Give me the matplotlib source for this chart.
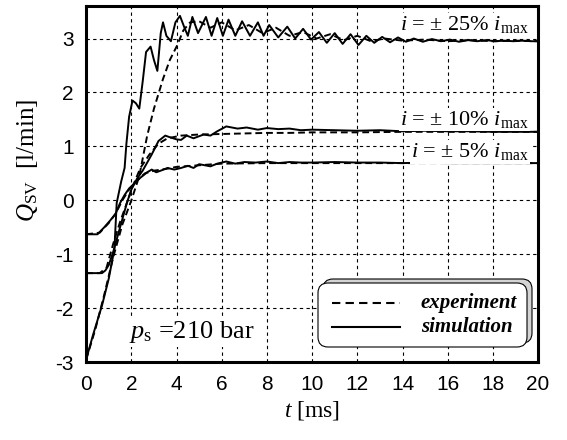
import matplotlib
matplotlib.use("Agg")
import matplotlib.pyplot as plt
from matplotlib.patches import FancyBboxPatch
from matplotlib.lines import Line2D

plt.rcParams['mathtext.fontset'] = 'custom'
plt.rcParams['mathtext.rm'] = 'Liberation Serif'
plt.rcParams['mathtext.it'] = 'Liberation Serif:italic'
plt.rcParams['mathtext.bf'] = 'Liberation Serif:bold'

# ---- data ----
sim25_t = [0, 0.3, 0.7, 1.0, 1.25, 1.35, 1.55, 1.7, 1.78, 1.9, 2.05, 2.2, 2.35, 2.5, 2.65,
           2.85, 3.0, 3.15, 3.3, 3.4, 3.55, 3.75, 3.95, 4.15, 4.35, 4.5, 4.7, 4.95, 5.3, 5.55,
           5.8, 6.05, 6.3, 6.6, 6.9, 7.25, 7.6, 7.85, 8.1, 8.5, 8.9, 9.25, 9.6, 9.95, 10.3,
           10.65, 11.0, 11.35, 11.7, 12.05, 12.4, 12.75, 13.1, 13.45, 13.8, 14.15, 14.5, 14.9,
           15.3, 15.7, 16.1, 16.5, 16.9, 17.3, 17.7, 18.1, 18.5, 18.9, 19.3, 19.7, 20.0]
sim25_q = [-2.95, -2.5, -1.95, -1.45, -0.9, -0.05, 0.35, 0.6, 1.05, 1.55, 1.85, 1.8, 1.7, 2.2, 2.75,
           2.85, 2.6, 2.4, 3.1, 3.3, 3.05, 2.95, 3.3, 3.42, 3.2, 3.05, 3.4, 3.1, 3.4, 3.05,
           3.38, 3.05, 3.35, 3.05, 3.32, 3.05, 3.3, 3.05, 3.25, 3.02, 3.22, 3.0, 3.18, 2.98, 3.12,
           2.92, 3.1, 2.9, 3.08, 2.88, 3.05, 2.92, 3.03, 2.93, 3.02, 2.94, 3.0, 2.94,
           2.99, 2.95, 2.98, 2.94, 2.97, 2.95, 2.97, 2.95, 2.96, 2.95, 2.96, 2.95, 2.95]

exp25_t = [0, 0.4, 0.8, 1.2, 1.6, 2.0, 2.35, 2.7, 3.0, 3.4, 3.7, 4.0, 4.3, 4.6, 5.0, 5.5, 6.0,
           6.6, 7.2, 7.8, 8.4, 9.0, 9.6, 10.2, 10.8, 11.4, 12.0, 12.6, 13.2, 14, 15, 16, 17, 18, 19, 20]
exp25_q = [-2.95, -2.4, -1.75, -1.05, -0.45, 0.0, 0.45, 1.2, 1.7, 2.25, 2.6, 2.85, 3.15, 3.3, 3.32,
           3.2, 3.3, 3.15, 3.25, 3.1, 3.2, 3.05, 3.12, 3.0, 3.08, 2.97, 3.05, 2.95, 3.0, 2.96,
           2.98, 2.95, 2.97, 2.95, 2.96, 2.95]

sim10_t = [0, 0.7, 0.85, 1.0, 1.2, 1.4, 1.6, 1.8, 2.0, 2.25, 2.5, 2.7, 2.9, 3.2, 3.5, 3.7, 4.0,
           4.2, 4.45, 4.75, 5.2, 5.5, 5.8, 6.2, 6.7, 7.1, 7.6, 8.0, 8.5, 9.0, 9.5, 10, 11, 12, 13,
           14, 15, 16, 17, 18, 19, 20]
sim10_q = [-1.35, -1.35, -1.3, -1.2, -0.95, -0.65, -0.35, -0.05, 0.2, 0.4, 0.55, 0.7, 0.85, 1.1,
           1.2, 1.17, 1.13, 1.12, 1.2, 1.15, 1.22, 1.2, 1.28, 1.37, 1.33, 1.35, 1.31, 1.34, 1.32,
           1.33, 1.3, 1.31, 1.3, 1.29, 1.3, 1.28, 1.29, 1.28, 1.28, 1.27, 1.27, 1.27]

exp10_t = [0, 0.6, 0.9, 1.2, 1.5, 1.8, 2.1, 2.4, 2.8, 3.2, 3.6, 4.2, 5, 6, 7, 8, 9, 10, 12, 14,
           16, 18, 20]
exp10_q = [-1.35, -1.35, -1.25, -0.8, -0.4, -0.05, 0.3, 0.6, 0.85, 1.05, 1.15, 1.2, 1.22, 1.23,
           1.24, 1.25, 1.25, 1.26, 1.26, 1.27, 1.27, 1.27, 1.27]

sim5_t = [0, 0.5, 0.8, 1.05, 1.3, 1.5, 1.7, 1.9, 2.1, 2.4, 2.7, 2.9, 3.1, 3.3, 3.6, 3.9, 4.2,
          4.5, 4.75, 5.0, 5.5, 5.8, 6.2, 6.6, 7.0, 7.5, 8, 8.5, 9, 9.5, 10, 11, 12, 13, 14, 15,
          16, 17, 18, 19, 20]
sim5_q = [-0.63, -0.63, -0.5, -0.38, -0.25, -0.05, 0.1, 0.22, 0.3, 0.42, 0.52, 0.57, 0.52, 0.55,
          0.6, 0.57, 0.6, 0.64, 0.6, 0.67, 0.63, 0.68, 0.72, 0.68, 0.71, 0.7, 0.72, 0.69, 0.71,
          0.7, 0.7, 0.71, 0.7, 0.7, 0.69, 0.7, 0.69, 0.69, 0.69, 0.69, 0.69]

exp5_t = [0, 0.6, 1.0, 1.3, 1.6, 1.9, 2.2, 2.6, 3.0, 3.5, 4, 5, 6, 8, 10, 12, 14, 16, 18, 20]
exp5_q = [-0.63, -0.6, -0.42, -0.25, 0.0, 0.2, 0.35, 0.5, 0.55, 0.58, 0.62, 0.65, 0.68, 0.69,
          0.69, 0.69, 0.69, 0.69, 0.69, 0.69]

x_ticks = [0, 2, 4, 6, 8, 10, 12, 14, 16, 18, 20]
y_ticks = [-3, -2, -1, 0, 1, 2, 3]

curve_labels = [r'$i$ = ± 25% $i_{\mathrm{max}}$', r'$i$ = ± 10% $i_{\mathrm{max}}$',
                r'$i$ = ± 5% $i_{\mathrm{max}}$']
label_y = [3.26, 1.5, 0.9]

# ---- figure ----
fig = plt.figure(figsize=(5.67, 4.4), dpi=100)
ax = fig.add_axes([0.152, 0.177, 0.797, 0.809])

sim_kw = dict(color='black', lw=1.4, solid_joinstyle='round')
exp_kw = dict(color='black', lw=1.4, dashes=(3.5, 2.0))
ax.plot(exp25_t, exp25_q, **exp_kw)
ax.plot(exp10_t, exp10_q, **exp_kw)
ax.plot(exp5_t, exp5_q, **exp_kw)
ax.plot(sim25_t, sim25_q, **sim_kw)
ax.plot(sim10_t, sim10_q, **sim_kw)
ax.plot(sim5_t, sim5_q, **sim_kw)

ax.set_xlim(0, 20)
ax.set_ylim(-3, 3.6)
ax.set_xticks(x_ticks)
ax.set_yticks(y_ticks)
ax.set_xticklabels([str(v) for v in x_ticks], family='Liberation Sans', fontsize=15)
ax.set_yticklabels([str(v) for v in y_ticks], family='Liberation Sans', fontsize=15)
ax.tick_params(length=0, pad=9)
ax.grid(True, color='black', lw=0.8, dashes=(3, 3))
ax.set_axisbelow(True)
for s in ax.spines.values():
    s.set_linewidth(2.2)

for lab, y in zip(curve_labels, label_y):
    ax.text(19.6, y, lab, ha='right', va='center', family='Liberation Serif', fontsize=16,
            bbox=dict(facecolor='white', edgecolor='none', pad=1.0))

ax.text(1.9, -2.45, r'$p_{\mathrm{s}}$ =210 bar', ha='left', va='center',
        family='Liberation Serif', fontsize=19,
        bbox=dict(facecolor='white', edgecolor='none', pad=1.0))

ax.set_xlabel(r'$t$ [ms]', family='Liberation Serif', fontsize=17, labelpad=4)
fig.text(0.049, 0.636, r'$Q_{\mathrm{SV}}$  [l/min]', rotation=90, ha='center', va='center',
         family='Liberation Serif', fontsize=18)

# ---- legend box (rounded, with shadow) ----
tr = fig.dpi_scale_trans
shadow = FancyBboxPatch((3.23, 0.97), 2.09, 0.64, boxstyle='round,pad=0,rounding_size=0.1',
                        transform=tr, facecolor='#d4d4d4', edgecolor='black', lw=0.8, zorder=5)
box = FancyBboxPatch((3.18, 0.93), 2.09, 0.64, boxstyle='round,pad=0,rounding_size=0.1',
                     transform=tr, facecolor='white', edgecolor='black', lw=0.8, zorder=6)
fig.add_artist(shadow)
fig.add_artist(box)
fig.add_artist(Line2D([3.32, 4.00], [1.37, 1.37], transform=tr, color='black', lw=1.5,
                      dashes=(4, 2.5), zorder=7))
fig.add_artist(Line2D([3.32, 4.00], [1.13, 1.13], transform=tr, color='black', lw=1.5, zorder=7))
fig.text(4.21, 1.37, 'experiment', transform=tr, ha='left', va='center',
         family='Liberation Serif', style='italic', weight='bold', fontsize=15, zorder=7)
fig.text(4.21, 1.13, 'simulation', transform=tr, ha='left', va='center',
         family='Liberation Serif', style='italic', weight='bold', fontsize=15, zorder=7)

fig.savefig('out.png', dpi=100)
